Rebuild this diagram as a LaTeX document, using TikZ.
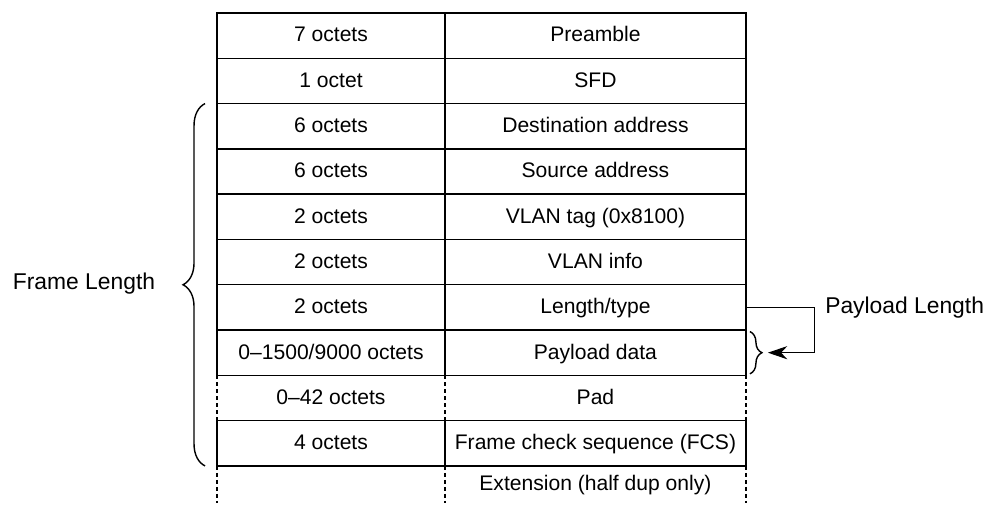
\documentclass[tikz,border=0pt]{standalone}
\usepackage{fontspec}
\setmainfont{Liberation Sans}
\usetikzlibrary{arrows.meta,positioning,calc,decorations.pathreplacing}
\tikzset{
  cellbox/.style={draw, minimum height=0.906cm, inner sep=0pt, outer sep=0pt,
                  text height=0.72em, text depth=0pt,
                  line width=0.8pt, font=\fontsize{12}{14}\selectfont},
  octbox/.style ={cellbox, minimum width=4.56cm},
  fldbox/.style ={cellbox, minimum width=6.02cm},
  lblnode/.style={font=\fontsize{13}{15}\selectfont, inner sep=0pt},
  dashln/.style ={line width=0.7pt, dash pattern=on 0.08cm off 0.06cm},
  brc/.style    ={decorate, decoration={brace, amplitude=#1}, line width=0.8pt},
  arr/.style    ={-{Stealth[length=11pt, width=7.5pt, inset=3.5pt]}, line width=0.6pt},
}
\begin{document}
\begin{tikzpicture}[x=0.02cm, y=-0.02cm]
  \useasboundingbox (0,0) rectangle (990,507);

  \node[octbox] (o1) at (331,35.65) {7 octets};
  \node[fldbox, right=0pt of o1] (f1) {Preamble};
  \node[octbox, below=0pt of o1] (o2) {1 octet};
  \node[fldbox, right=0pt of o2] (f2) {SFD};
  \node[octbox, below=0pt of o2] (o3) {6 octets};
  \node[fldbox, right=0pt of o3] (f3) {Destination address};
  \node[octbox, below=0pt of o3] (o4) {6 octets};
  \node[fldbox, right=0pt of o4] (f4) {Source address};
  \node[octbox, below=0pt of o4] (o5) {2 octets};
  \node[fldbox, right=0pt of o5] (f5) {VLAN tag (0x8100)};
  \node[octbox, below=0pt of o5] (o6) {2 octets};
  \node[fldbox, right=0pt of o6] (f6) {VLAN info};
  \node[octbox, below=0pt of o6] (o7) {2 octets};
  \node[fldbox, right=0pt of o7] (f7) {Length/type};
  \node[octbox, below=0pt of o7] (o8) {0--1500/9000 octets};
  \node[fldbox, right=0pt of o8] (f8) {Payload data};
  \node[octbox, draw=none, below=0pt of o8] (o9) {0--42 octets};
  \node[fldbox, draw=none, right=0pt of o9] (f9) {Pad};
  \node[octbox, below=0pt of o9] (o10) {4 octets};
  \node[fldbox, right=0pt of o10] (f10) {Frame check sequence (FCS)};
  \node[octbox, draw=none, minimum height=0.74cm, below=0pt of o10] (o11) {};
  \node[fldbox, draw=none, minimum height=0.74cm, right=0pt of o11] (f11)
        {Extension (half dup only)};

  \draw[dashln](o9.north west)--(o9.south west);
  \draw[dashln](f9.north west)--(f9.south west);
  \draw[dashln](f9.north east)--(f9.south east);
  \draw[dashln](o11.north west)--(o11.south west);
  \draw[dashln](f11.north west)--(f11.south west);
  \draw[dashln](f11.north east)--(f11.south east);

  \draw[brc=0.44cm]([xshift=-0.24cm]o10.south west)--([xshift=-0.24cm]o3.north west);
  \node[lblnode] (flen) at (84,284) {Frame Length};

  \coordinate[right=1.38cm of f7.east] (pturn);
  \draw[brc=0.24cm]([xshift=0.08cm,yshift=-0.03cm]f8.north east)
        --([xshift=0.08cm,yshift=0.03cm]f8.south east);
  \draw[arr](f7.east)--(pturn)|-([xshift=0.44cm]f8.east);
  \node[lblnode, anchor=west, right=0.2cm of pturn] (plen) {Payload Length};
\end{tikzpicture}
\end{document}
